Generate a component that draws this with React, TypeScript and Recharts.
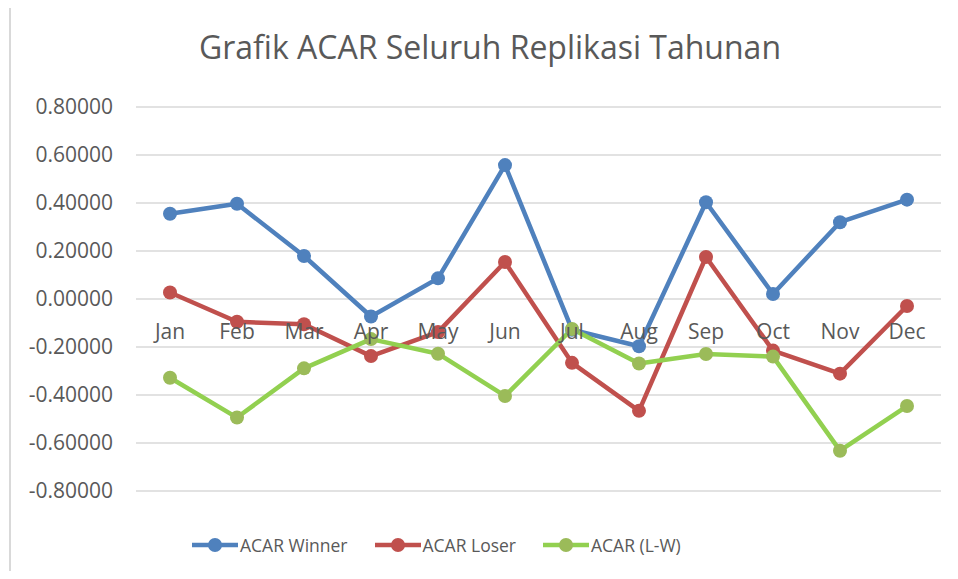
import { LineChart, Line, XAxis, YAxis, CartesianGrid, Legend } from "recharts";

const MONTHS = ["Jan", "Feb", "Mar", "Apr", "May", "Jun", "Jul", "Aug", "Sep", "Oct", "Nov", "Dec"];
const ACAR_WINNER = [0.355, 0.397, 0.179, -0.073, 0.086, 0.558, -0.128, -0.197, 0.403, 0.021, 0.32, 0.414];
const ACAR_LOSER = [0.027, -0.095, -0.105, -0.238, -0.138, 0.154, -0.266, -0.466, 0.175, -0.215, -0.311, -0.029];
const ACAR_LW = [-0.328, -0.494, -0.289, -0.167, -0.228, -0.404, -0.125, -0.269, -0.229, -0.24, -0.632, -0.446];
const Y_TICKS = [-0.8, -0.6, -0.4, -0.2, 0, 0.2, 0.4, 0.6, 0.8];

const SERIES = [
    { key: "winner", name: "ACAR Winner", line: "#4F81BD", marker: "#4F81BD" },
    { key: "loser", name: "ACAR Loser", line: "#C0504D", marker: "#C0504D" },
    { key: "lw", name: "ACAR (L-W)", line: "#92D050", marker: "#9BBB59" },
];

const data = MONTHS.map((month, i) => ({
    month,
    winner: ACAR_WINNER[i],
    loser: ACAR_LOSER[i],
    lw: ACAR_LW[i],
}));

const FONT = "'Open Sans', 'DejaVu Sans', sans-serif";
const TEXT = "#595959";
const W = 958;
const H = 579;
const X_AXIS_H = 30;
const MARGIN = { top: 107, right: 17, bottom: 88 - X_AXIS_H, left: 16 };
const PLOT_H = H - MARGIN.top - MARGIN.bottom - X_AXIS_H;

// category labels sit just under the zero line, like Excel's axis crossing at 0
const renderMonthTick = (props: any) => (
    <text
        key={props.index}
        x={props.x}
        y={props.y - PLOT_H / 2 + 40}
        textAnchor="middle"
        fill={TEXT}
        fontSize={21}
        fontFamily={FONT}
    >
        {props.payload.value}
    </text>
);

const LegendContent = () => (
    <div style={{ display: "flex", alignItems: "center", fontFamily: FONT, fontSize: 17.5, color: TEXT }}>
        {SERIES.map((s) => (
            <div key={s.key} style={{ display: "flex", alignItems: "center", marginRight: 27 }}>
                <svg width={46} height={16}>
                    <line x1={0} y1={8} x2={46} y2={8} stroke={s.line} strokeWidth={4.5} />
                    <circle cx={23} cy={8} r={7} fill={s.marker} />
                </svg>
                <span style={{ marginLeft: 2 }}>{s.name}</span>
            </div>
        ))}
    </div>
);

export default function App() {
    return (
        <div style={{ position: "relative", margin: -8, width: W, height: H, overflow: "hidden", background: "#fff" }}>
            <div
                style={{
                    position: "absolute",
                    left: 9,
                    top: 6,
                    width: 1200,
                    height: 1200,
                    border: "2px solid #d9d9d9",
                }}
            />
            <div
                style={{
                    position: "absolute",
                    left: 11,
                    top: 31,
                    width: W,
                    textAlign: "center",
                    fontFamily: FONT,
                    fontSize: 32,
                    lineHeight: "32px",
                    color: TEXT,
                    whiteSpace: "nowrap",
                }}
            >
                Grafik ACAR Seluruh Replikasi Tahunan
            </div>
            <div style={{ position: "absolute", left: 0, top: 0 }}>
                <LineChart width={W} height={H} data={data} margin={MARGIN}>
                    <CartesianGrid vertical={false} stroke="#d9d9d9" strokeWidth={1.5} />
                    <XAxis
                        dataKey="month"
                        axisLine={false}
                        tickLine={false}
                        tickSize={0}
                        tickMargin={0}
                        height={X_AXIS_H}
                        interval={0}
                        padding={{ left: 34, right: 34 }}
                        tick={renderMonthTick}
                    />
                    <YAxis
                        width={120}
                        domain={[-0.8, 0.8]}
                        ticks={Y_TICKS}
                        axisLine={false}
                        tickLine={false}
                        tickSize={0}
                        tickMargin={23}
                        tickFormatter={(v: number) => v.toFixed(5)}
                        tick={{ fill: TEXT, fontSize: 21, fontFamily: FONT }}
                    />
                    {SERIES.map((s) => (
                        <Line
                            key={s.key}
                            type="linear"
                            dataKey={s.key}
                            name={s.name}
                            stroke={s.line}
                            strokeWidth={4.5}
                            strokeLinejoin="round"
                            dot={{ r: 7, fill: s.marker, stroke: s.marker, strokeWidth: 0 }}
                            activeDot={false}
                            isAnimationActive={false}
                        />
                    ))}
                    <Legend
                        layout="horizontal"
                        verticalAlign="middle"
                        align="center"
                        content={<LegendContent />}
                        wrapperStyle={{ left: 192, top: 533, width: "auto" }}
                    />
                </LineChart>
            </div>
        </div>
    );
}
